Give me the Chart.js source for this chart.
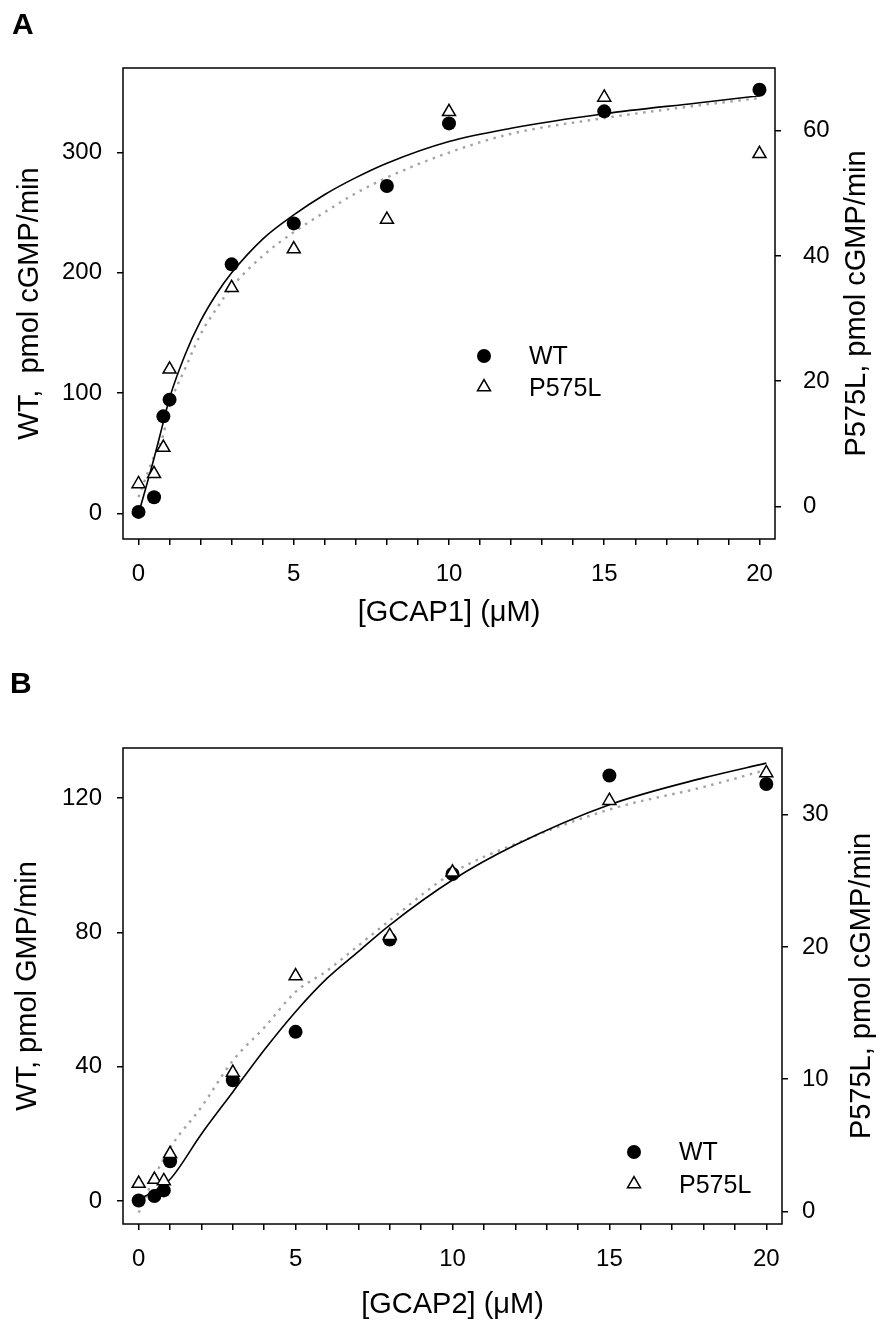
<!DOCTYPE html>
<html>
<head>
<meta charset="utf-8">
<script src="https://cdn.jsdelivr.net/npm/chart.js@4.4.1/dist/chart.umd.min.js"></script>
<style>
  body { margin: 0; background: #fff; }
  .panel { position: relative; width: 892px; height: 667px; }
</style>
</head>
<body>
<div class="panel"><canvas id="chartA" width="892" height="667"></canvas></div>
<div class="panel"><canvas id="chartB" width="892" height="667"></canvas></div>
<script>
// measured GCAP concentrations (µM)
const gcapConc = [0, 0.5, 0.8, 1, 3, 5, 8, 10, 15, 20];

// panel A - GCAP1
const wtA  = [1.5, 13.6, 80.8, 94.7, 207, 241, 272, 324, 334, 352];
const mutA = [3.6, 5.2, 9.4, 21.9, 34.9, 41.1, 45.8, 63.0, 65.3, 56.3];
const fitXA    = [0, 0.5, 0.8, 1, 1.5, 2, 2.5, 3, 4, 5, 6, 7, 8, 10, 12, 15, 18, 20];
const wtFitA   = [0, 46, 76, 96, 132, 160, 182, 200, 228, 248, 265, 279, 291, 309, 320, 332, 341, 347];
const mutFitA  = [1.5, 8, 11.5, 16, 22, 27.5, 31.5, 35, 40, 43.8, 47, 50, 52.5, 56.5, 59.5, 62, 64, 65.2];

// panel B - GCAP2
const wtB  = [0.2, 1.5, 3.2, 11.9, 36, 50.4, 77.9, 97.4, 126.7, 124.2];
const mutB = [2.1, 2.4, 2.3, 4.35, 10.5, 17.8, 20.85, 25.65, 31.06, 33.16];
const fitXB   = [0, 0.5, 1, 2, 3, 4, 5, 6, 7, 8, 10, 12, 15, 18, 20];
const wtFitB  = [0.5, 3, 6.5, 20, 32.5, 45, 56.4, 66.3, 74.3, 82.2, 95.6, 106, 118, 126, 130.4];
const mutFitB = [-0.1, 2.6, 4.8, 7.9, 11.4, 13.9, 16.6, 18.2, 20.1, 22.0, 25.6, 27.8, 30.4, 32.1, 33.4];

// tick positions
const xTicks   = [0, 1, 2, 3, 4, 5, 6, 7, 8, 9, 10, 11, 12, 13, 14, 15, 16, 17, 18, 19, 20];
const yTicksA  = [0, 100, 200, 300];
const y2TicksA = [0, 20, 40, 60];
const yTicksB  = [0, 40, 80, 120];
const y2TicksB = [0, 10, 20, 30];

const FONT = '"Liberation Sans", Arial, sans-serif';

const pts = (xs, ys) => xs.map((x, i) => ({ x: x, y: ys[i] }));

const framePlugin = {
    id: 'frame',
    afterDraw(chart, args, o) {
        const ctx = chart.ctx;
        const a = chart.chartArea;
        ctx.save();
        ctx.strokeStyle = '#000';
        ctx.lineWidth = 1.5;
        ctx.strokeRect(a.left, a.top, a.right - a.left, a.bottom - a.top);

        ctx.fillStyle = '#000';
        ctx.font = 'bold 30px ' + FONT;
        ctx.textAlign = 'left';
        ctx.textBaseline = 'alphabetic';
        ctx.fillText(o.letter, o.letterX, o.letterY);

        ctx.font = '29px ' + FONT;
        ctx.textAlign = 'center';
        ctx.textBaseline = 'middle';
        ctx.fillText(o.xTitle, (a.left + a.right) / 2, a.bottom + o.xTitleGap);
        const midY = (a.top + a.bottom) / 2;
        [[o.yTitle, o.yTitleX], [o.y2Title, o.y2TitleX]].forEach(([t, x]) => {
            ctx.save();
            ctx.translate(x, midY);
            ctx.rotate(-Math.PI / 2);
            ctx.fillText(t, 0, 0);
            ctx.restore();
        });

        // legend
        const lg = o.legend;
        ctx.beginPath();
        ctx.arc(lg.x, lg.y1, 7, 0, Math.PI * 2);
        ctx.fill();
        const r = 7.5;
        ctx.beginPath();
        ctx.moveTo(lg.x, lg.y2 - r);
        ctx.lineTo(lg.x + r * 0.866, lg.y2 + r * 0.5);
        ctx.lineTo(lg.x - r * 0.866, lg.y2 + r * 0.5);
        ctx.closePath();
        ctx.fillStyle = '#fff';
        ctx.fill();
        ctx.lineWidth = 1.5;
        ctx.stroke();
        ctx.fillStyle = '#000';
        ctx.font = '25px ' + FONT;
        ctx.textAlign = 'left';
        ctx.fillText('WT', lg.tx, lg.y1 + 1);
        ctx.fillText('P575L', lg.tx, lg.y2 + 2);
        ctx.restore();
    }
};

function tickGrid() {
    return { display: true, drawOnChartArea: false, drawTicks: true, tickLength: 6, color: '#000', lineWidth: 1.5 };
}

function makeChart(id, p) {
    new Chart(document.getElementById(id), {
        type: 'scatter',
        data: {
            datasets: [{
                label: 'P575L',
                data: pts(gcapConc, p.mut),
                yAxisID: 'y2',
                pointStyle: 'triangle',
                pointRadius: 7.5,
                pointBackgroundColor: '#fff',
                pointBorderColor: '#000',
                pointBorderWidth: 1.5,
                order: 0
            }, {
                label: 'WT',
                data: pts(gcapConc, p.wt),
                yAxisID: 'y',
                pointStyle: 'circle',
                pointRadius: 7,
                pointBackgroundColor: '#000',
                pointBorderColor: '#000',
                pointBorderWidth: 0,
                order: 1
            }, {
                label: 'WT fit',
                data: pts(p.fitX, p.wtFit),
                yAxisID: 'y',
                showLine: true,
                pointRadius: 0,
                borderColor: '#000',
                borderWidth: 1.6,
                cubicInterpolationMode: 'monotone',
                order: 2
            }, {
                label: 'P575L fit',
                data: pts(p.fitX, p.mutFit),
                yAxisID: 'y2',
                showLine: true,
                pointRadius: 0,
                borderColor: '#a3a3a3',
                borderWidth: 2.4,
                borderDash: [2.5, 5.5],
                cubicInterpolationMode: 'monotone',
                order: 3
            }]
        },
        options: {
            responsive: false,
            animation: false,
            layout: { padding: { top: p.top, left: 0, right: 0, bottom: 0 } },
            plugins: {
                legend: { display: false },
                tooltip: { enabled: false },
                frame: p.frame
            },
            scales: {
                x: {
                    type: 'linear',
                    min: -0.5, max: 20.5,
                    afterBuildTicks: s => { s.ticks = xTicks.map(v => ({ value: v })); },
                    afterFit: s => { s.height = p.xHeight; },
                    grid: tickGrid(),
                    border: { display: false },
                    ticks: {
                        color: '#000', padding: 15, maxRotation: 0, autoSkip: false,
                        font: { family: FONT, size: 24 },
                        callback: v => (v % 5 === 0 ? String(v) : '')
                    }
                },
                y: {
                    position: 'left',
                    min: p.yMin, max: p.yMax,
                    afterBuildTicks: s => { s.ticks = p.yTicks.map(v => ({ value: v })); },
                    afterFit: s => { s.width = 123; },
                    grid: tickGrid(),
                    border: { display: false },
                    ticks: { color: '#000', padding: 15, font: { family: FONT, size: 24 } }
                },
                y2: {
                    position: 'right',
                    min: p.y2Min, max: p.y2Max,
                    afterBuildTicks: s => { s.ticks = p.y2Ticks.map(v => ({ value: v })); },
                    afterFit: s => { s.width = p.rightWidth; },
                    grid: tickGrid(),
                    border: { display: false },
                    ticks: { color: '#000', padding: p.rightPad, font: { family: FONT, size: 24 } }
                }
            }
        },
        plugins: [framePlugin]
    });
}

makeChart('chartA', {
    wt: wtA, mut: mutA, fitX: fitXA, wtFit: wtFitA, mutFit: mutFitA,
    yMin: -21, yMax: 370, y2Min: -5.2, y2Max: 70,
    yTicks: yTicksA, y2Ticks: y2TicksA,
    top: 68, xHeight: 128, rightWidth: 117, rightPad: 22,
    frame: {
        letter: 'A', letterX: 12, letterY: 34,
        xTitle: '[GCAP1] (\u03bcM)', xTitleGap: 74,
        yTitle: 'WT,  pmol cGMP/min', yTitleX: 30,
        y2Title: 'P575L, pmol cGMP/min', y2TitleX: 857,
        legend: { x: 484, y1: 356, y2: 387, tx: 529 }
    }
});

makeChart('chartB', {
    wt: wtB, mut: mutB, fitX: fitXB, wtFit: wtFitB, mutFit: mutFitB,
    yMin: -6.8, yMax: 134.9, y2Min: -0.96, y2Max: 35.05,
    yTicks: yTicksB, y2Ticks: y2TicksB,
    top: 81, xHeight: 110, rightWidth: 110, rightPad: 14,
    frame: {
        letter: 'B', letterX: 10, letterY: 26,
        xTitle: '[GCAP2] (\u03bcM)', xTitleGap: 81,
        yTitle: 'WT, pmol GMP/min', yTitleX: 28,
        y2Title: 'P575L, pmol cGMP/min', y2TitleX: 862,
        legend: { x: 634, y1: 485, y2: 517, tx: 679 }
    }
});
</script>
</body>
</html>
